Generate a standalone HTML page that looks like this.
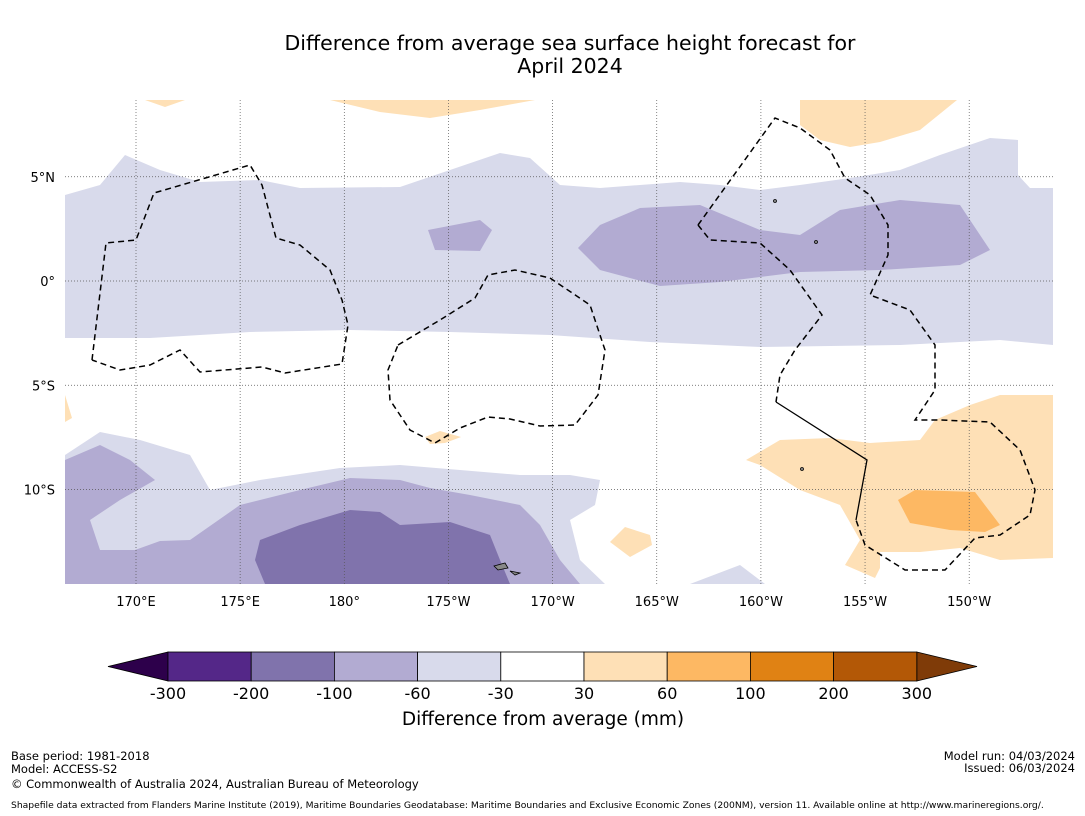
<!DOCTYPE html>
<html><head><meta charset="utf-8">
<style>
body{margin:0;background:#fff;font-family:"DejaVu Sans",sans-serif;}
svg{display:block}
</style></head>
<body>
<svg width="1085" height="816" xmlns="http://www.w3.org/2000/svg" font-family="DejaVu Sans, sans-serif">
<text x="570" y="50" text-anchor="middle" font-size="20.5">Difference from average sea surface height forecast for</text>
<text x="570" y="73" text-anchor="middle" font-size="20.5">April 2024</text>
<defs><clipPath id="mc"><rect x="65" y="100" width="988" height="484"/></clipPath></defs>
<g clip-path="url(#mc)">
<path fill="#d8daeb" d="M65,195 L100,185 125,155 160,170 200,182 260,180 300,188 400,187 450,170 500,153 530,158 560,185 600,188 680,182 720,185 760,190 800,185 850,178 900,170 940,155 990,138 1018,140 1018,175 1030,188 1053,188 1053,345 1000,340 900,345 760,347 650,342 550,335 450,332 350,330 250,332 150,338 65,338Z"/>
<path fill="#b2abd2" d="M428,230 480,220 492,230 480,251 435,250Z"/>
<path fill="#b2abd2" d="M578,248 600,225 640,208 700,205 760,230 800,235 840,210 900,200 960,205 990,250 960,265 880,270 800,272 720,282 660,286 600,270Z"/>
<path fill="#d8daeb" d="M65,455 100,432 140,440 190,455 210,490 260,480 340,468 400,465 460,470 520,475 570,475 600,480 595,505 570,520 580,560 605,584 65,584Z"/>
<path fill="#d8daeb" d="M690,584 740,565 765,584Z"/>
<path fill="#b2abd2" d="M65,460 100,445 130,460 155,480 120,500 90,520 100,550 135,550 160,541 190,540 240,505 300,490 350,478 400,480 430,488 470,495 520,505 540,525 560,560 580,584 65,584Z"/>
<path fill="#8073ac" d="M260,540 300,525 350,510 380,512 400,525 450,522 490,535 500,560 510,584 265,584 255,560Z"/>
<path fill="#fee0b6" d="M746,460 780,440 830,438 870,443 920,440 935,420 970,405 1000,395 1053,395 1053,558 1000,560 960,548 920,552 880,552 880,568 875,578 845,565 860,540 840,505 800,490 760,465Z"/>
<path fill="#fdb863" d="M898,500 915,490 975,492 1000,525 985,532 950,530 910,523Z"/>
<path fill="#fee0b6" d="M330,100 380,112 430,118 480,110 535,100Z"/>
<path fill="#fee0b6" d="M800,100 800,125 820,140 850,147 880,142 920,130 957,100Z"/>
<path fill="#fee0b6" d="M145,100 165,107 185,100Z"/>
<path fill="#fee0b6" d="M65,395 72,418 65,422Z"/>
<path fill="#fee0b6" d="M425,437 440,431 461,437 445,443 430,444Z"/>
<path fill="#fee0b6" d="M610,542 625,527 650,535 652,545 630,557Z"/>
<g id="grid"></g>
<g fill="none" stroke="#000" stroke-width="1.5" stroke-dasharray="6,4">
<path d="M92,360 106,243 136,240 154,193 250,165 262,185 276,238 300,245 330,270 342,300 348,325 342,364 285,373 262,367 200,372 180,350 150,365 120,370 92,360"/>
<path d="M398,345 440,320 475,298 488,275 515,270 550,278 590,305 605,350 598,395 575,425 540,426 510,419 488,417 460,428 435,443 410,430 390,400 388,370 398,345"/>
<path d="M698,225 775,118 800,128 830,150 845,178 870,195 888,225 888,255 870,295 910,310 935,345 935,390 915,420 940,420 990,422 1020,450 1035,490 1030,515 1000,535 975,538 945,570 905,570 865,545 856,520"/>
<path d="M698,225 710,240 760,243 790,270 822,315 795,350 780,375 776,402"/>
</g>
<path d="M776,402 867,460 856,520" fill="none" stroke="#000" stroke-width="1.3"/>
<g fill="#888" stroke="#000" stroke-width="0.8">
<path d="M494,566 505,563 508,568 498,570Z"/><path d="M510,571 520,573 515,575Z"/>
<circle cx="802" cy="469" r="1.5"/><circle cx="775" cy="201" r="1.5"/><circle cx="816" cy="242" r="1.5"/>
</g>
</g>
<g id="ticks" font-size="13"></g>
<g id="cbar"></g>
<text x="543" y="725" text-anchor="middle" font-size="18.5">Difference from average (mm)</text>
<g font-size="11.5">
<text x="11" y="760">Base period: 1981-2018</text>
<text x="11" y="773">Model: ACCESS-S2</text>
<text x="11" y="788">© Commonwealth of Australia 2024, Australian Bureau of Meteorology</text>
<text x="1075" y="760" text-anchor="end">Model run: 04/03/2024</text>
<text x="1075" y="772" text-anchor="end">Issued: 06/03/2024</text>
<text x="11" y="808" font-size="9.2">Shapefile data extracted from Flanders Marine Institute (2019), Maritime Boundaries Geodatabase: Maritime Boundaries and Exclusive Economic Zones (200NM), version 11. Available online at http://www.marineregions.org/.</text>
</g>
<script>
const lonTicks=[170,175,180,185,190,195,200,205,210];
const lonLabels=["170°E","175°E","180°","175°W","170°W","165°W","160°W","155°W","150°W"];
const latTicks=[5,0,-5,-10];
const latLabels=["5°N","0°","5°S","10°S"];
const cbarBounds=["-300","-200","-100","-60","-30","30","60","100","200","300"];
const cbarColors=["#542788","#8073ac","#b2abd2","#d8daeb","#ffffff","#fee0b6","#fdb863","#e08214","#b35806"];
const NS="http://www.w3.org/2000/svg";
function xl(l){return 136+(l-170)*20.83;}
function yl(l){return 281-l*20.85;}
const grid=document.getElementById('grid'),ticks=document.getElementById('ticks'),cb=document.getElementById('cbar');
function mk(t,a,p){const e=document.createElementNS(NS,t);for(const k in a)e.setAttribute(k,a[k]);p.appendChild(e);return e;}
lonTicks.forEach((l,i)=>{
 const g=mk('line',{x1:xl(l),x2:xl(l),y1:100,y2:584,stroke:'#555','stroke-width':0.7,'stroke-dasharray':'1,2'},grid);
 
 
 const t=mk('text',{x:xl(l),y:606,'text-anchor':'middle'},ticks);t.textContent=lonLabels[i];
 
 
});
latTicks.forEach((l,i)=>{
 const g=mk('line',{x1:65,x2:1053,y1:yl(l),y2:yl(l),stroke:'#555','stroke-width':0.7,'stroke-dasharray':'1,2'},grid);
 
 
 const t=mk('text',{x:55,y:yl(l)+5,'text-anchor':'end'},ticks);t.textContent=latLabels[i];
 
 
});
const cx0=168,cw=83.2,cy=652,ch=29;
const l=mk('path',{d:`M${cx0},${cy} L108,${cy+ch/2} L${cx0},${cy+ch}Z`,fill:'#2d004b',stroke:'#000','stroke-width':0.8},cb);


const xe=cx0+cw*cbarColors.length;
const r=mk('path',{d:`M${xe},${cy} L977,${cy+ch/2} L${xe},${cy+ch}Z`,fill:'#7f3b08',stroke:'#000','stroke-width':0.8},cb);


cbarColors.forEach((c,i)=>{
 const b=mk('rect',{x:cx0+i*cw,y:cy,width:cw,height:ch,fill:c,stroke:'#000','stroke-width':0.8},cb);
 
 
});
cbarBounds.forEach((s,i)=>{
 const t=mk('text',{x:cx0+i*cw,y:699,'text-anchor':'middle','font-size':16},cb);t.textContent=s;
 
 
});
</script>
</svg>
</body></html>
